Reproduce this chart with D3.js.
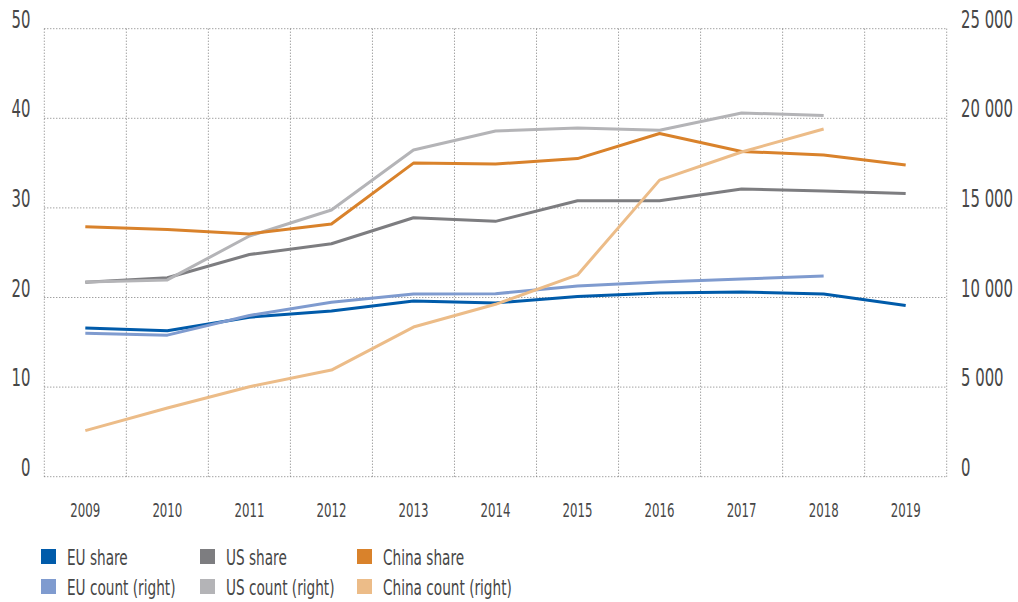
<!DOCTYPE html>
<html>
<head>
<meta charset="utf-8">
<script src="https://cdn.jsdelivr.net/npm/d3@7"></script>
<style>
  body { margin: 0; background: #fff; }
  svg text { font-family: "DejaVu Sans", sans-serif; fill: #474747; }
  .grid line { stroke: #7a7a7a; stroke-width: 1; stroke-dasharray: 1,2; }
  .line { fill: none; stroke-width: 3; stroke-linejoin: round; }
</style>
</head>
<body>
<svg></svg>
<script>
var years = ["2009", "2010", "2011", "2012", "2013", "2014", "2015", "2016", "2017", "2018", "2019"];

// shares in percent (left axis)
var euShare = [16.6, 16.3, 17.8, 18.5, 19.6, 19.4, 20.1, 20.5, 20.6, 20.4, 19.1];
var usShare = [21.7, 22.2, 24.8, 26.0, 28.9, 28.5, 30.8, 30.8, 32.1, 31.9, 31.6];
var chinaShare = [27.9, 27.6, 27.1, 28.2, 35.0, 34.9, 35.5, 38.3, 36.3, 35.9, 34.8];

// counts (right axis), no 2019 value
var euCount = [8000, 7900, 9000, 9730, 10200, 10210, 10640, 10870, 11030, 11200, null];
var usCount = [10870, 10980, 13430, 14880, 18230, 19290, 19460, 19330, 20300, 20150, null];
var chinaCount = [2570, 3830, 5020, 5950, 8350, 9620, 11260, 16550, 18120, 19400, null];

var leftTicks = [0, 10, 20, 30, 40, 50];
var rightTicks = [0, 5000, 10000, 15000, 20000, 25000];

var series = [
    { name: "EU share", values: euShare, axis: "left", color: "#005baa" },
    { name: "EU count (right)", values: euCount, axis: "right", color: "#7f9bcf" },
    { name: "US share", values: usShare, axis: "left", color: "#7d7d80" },
    { name: "US count (right)", values: usCount, axis: "right", color: "#b4b4b7" },
    { name: "China share", values: chinaShare, axis: "left", color: "#d9822b" },
    { name: "China count (right)", values: chinaCount, axis: "right", color: "#ecbc88" }
];
var legendOrder = [0, 2, 4, 1, 3, 5];

var width = 1018,
    height = 602;
var plotLeft = 44.3, plotRight = 946.7, plotTop = 28.7, plotBottom = 476.7;

var svg = d3.select("svg")
    .attr("width", width)
    .attr("height", height);

var x = d3.scaleBand().domain(years).range([plotLeft, plotRight]);
var yL = d3.scaleLinear().domain([0, 50]).range([plotBottom, plotTop]);
var yR = d3.scaleLinear().domain([0, 25000]).range([plotBottom, plotTop]);

var fmt = d3.formatLocale({ decimal: ".", thousands: " ", grouping: [3], currency: ["", ""] }).format(",");

// condensed look: squeeze text horizontally
function place(px, py, sx) {
    return "translate(" + px + "," + py + ") scale(" + sx + ",1)";
}

// grid
var grid = svg.append("g").attr("class", "grid");
grid.selectAll(".h")
    .data(leftTicks)
    .enter().append("line")
    .attr("x1", plotLeft).attr("x2", plotRight)
    .attr("y1", function(d) { return yL(d); })
    .attr("y2", function(d) { return yL(d); });
grid.selectAll(".v")
    .data(years.concat(["end"]))
    .enter().append("line")
    .attr("x1", function(d, i) { return plotLeft + i * x.step(); })
    .attr("x2", function(d, i) { return plotLeft + i * x.step(); })
    .attr("y1", plotTop).attr("y2", plotBottom);

// left axis labels
svg.append("g").selectAll("text")
    .data(leftTicks)
    .enter().append("text")
    .attr("transform", function(d) { return place(30.5, yL(d) - 1, 0.62); })
    .style("text-anchor", "end")
    .style("font-size", "24px")
    .text(function(d) { return d; });

// right axis labels
svg.append("g").selectAll("text")
    .data(rightTicks)
    .enter().append("text")
    .attr("transform", function(d) { return place(961, yR(d) - 1, 0.62); })
    .style("text-anchor", "start")
    .style("font-size", "24px")
    .text(function(d) { return fmt(d); });

// x labels
svg.append("g").selectAll("text")
    .data(years)
    .enter().append("text")
    .attr("transform", function(d) { return place(x(d) + x.bandwidth() / 2, 517, 0.62); })
    .style("text-anchor", "middle")
    .style("font-size", "19px")
    .text(function(d) { return d; });

// lines
series.forEach(function(s) {
    var y = s.axis === "left" ? yL : yR;
    var line = d3.line()
        .defined(function(d) { return d != null; })
        .x(function(d, i) { return x(years[i]) + x.bandwidth() / 2; })
        .y(function(d) { return y(d); });
    svg.append("path")
        .attr("class", "line")
        .attr("stroke", s.color)
        .attr("d", line(s.values));
});

// legend
var colX = [41, 200, 357];
var rowY = [549, 579];
var legend = svg.selectAll(".legend")
    .data(legendOrder)
    .enter().append("g")
    .attr("class", "legend")
    .attr("transform", function(d, i) {
        return "translate(" + colX[i % 3] + "," + rowY[Math.floor(i / 3)] + ")";
    });
legend.append("rect")
    .attr("width", 15).attr("height", 15)
    .attr("fill", function(d) { return series[d].color; });
legend.append("text")
    .attr("transform", place(26, 16, 0.65))
    .style("font-size", "21px")
    .text(function(d) { return series[d].name; });
</script>
</body>
</html>
